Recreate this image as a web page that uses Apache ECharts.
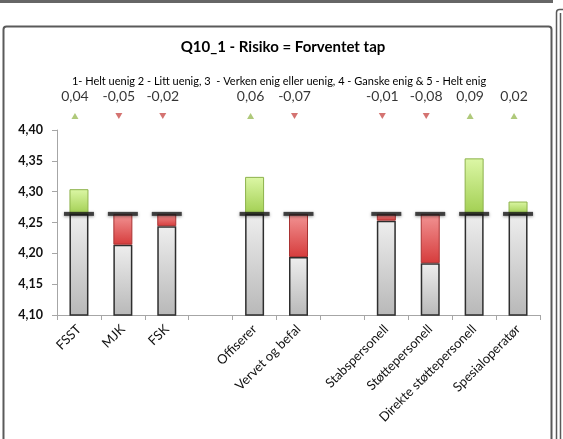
<!DOCTYPE html>
<html>
<head>
<meta charset="utf-8">
<script src="https://cdn.jsdelivr.net/npm/echarts@6/dist/echarts.min.js"></script>
<style>
html,body{margin:0;padding:0;background:#fff;}
#chart{width:563px;height:439px;}
</style>
</head>
<body>
<div id="chart"></div>
<script>
// ---- data ----
const categories = ['FSST', 'MJK', 'FSK', '', 'Offiserer', 'Vervet og befal', '', 'Stabspersonell', 'Støttepersonell', 'Direkte støttepersonell', 'Spesialoperatør'];
const means = [4.304, 4.214, 4.244, null, 4.324, 4.194, null, 4.253, 4.184, 4.354, 4.284];
const baselines = [4.264, 4.264, 4.264, null, 4.264, 4.264, null, 4.264, 4.264, 4.264, 4.264];
const changes = [0.04, -0.05, -0.02, null, 0.06, -0.07, null, -0.01, -0.08, 0.09, 0.02];
const yTicks = { min: 4.10, max: 4.40, interval: 0.05 };
const titleText = 'Q10_1 - Risiko = Forventet tap';
const subtitleText = '1- Helt uenig 2 - Litt uenig, 3  - Verken enig eller uenig, 4 - Ganske enig & 5 - Helt enig';

// ---- styles ----
const FONT = 'Lato, "Open Sans", sans-serif';
const greyGrad = { type: 'linear', x: 0, y: 0, x2: 0, y2: 1, colorStops: [{ offset: 0, color: '#eeeeee' }, { offset: 1, color: '#b8b8b8' }] };
const greenGrad = { type: 'linear', x: 0, y: 0, x2: 0, y2: 1, colorStops: [{ offset: 0, color: '#dcf7a6' }, { offset: 1, color: '#a2cf52' }] };
const redGrad = { type: 'linear', x: 0, y: 0, x2: 0, y2: 1, colorStops: [{ offset: 0, color: '#f29494' }, { offset: 1, color: '#d63c3c' }] };

const greyData = means.map((m, i) => m == null ? '-' : Math.min(m, baselines[i]));
const diffData = means.map((m, i) => {
  if (m == null) return '-';
  const up = m >= baselines[i];
  return {
    value: Math.abs(m - baselines[i]),
    itemStyle: up ? { color: greenGrad, borderColor: '#8db24c', borderWidth: 1 }
                  : { color: redGrad, borderColor: '#a83232', borderWidth: 1 }
  };
});
const markerData = baselines.map(b => b == null ? '-' : b);
const fmt = v => (v < 0 ? '-' : '') + Math.abs(v).toFixed(2).replace('.', ',');
const arrowData = changes.map((c, i) => {
  if (c == null) return null;
  const up = c >= 0;
  return {
    value: [i, 0.5],
    symbol: 'triangle',
    symbolRotate: up ? 0 : 180,
    itemStyle: { color: up ? '#9bbb59' : '#c9504d' },
    label: { formatter: fmt(c) }
  };
}).filter(d => d);

const chart = echarts.init(document.getElementById('chart'), null, { renderer: 'canvas' });
chart.setOption({
  animation: false,
  textStyle: { fontFamily: FONT },
  title: [
    { text: titleText, left: 278, textAlign: 'center', top: 35,
      textStyle: { fontFamily: FONT, fontSize: 15, fontWeight: 'bold', color: '#000' } },
    { text: subtitleText, left: 274, textAlign: 'center', top: 71,
      textStyle: { fontFamily: FONT, fontSize: 11, fontWeight: 'normal', color: '#000' } }
  ],
  graphic: [
    { type: 'line', shape: { x1: 0, y1: 1.5, x2: 553, y2: 1.5 }, style: { stroke: '#666', lineWidth: 3 }, silent: true },
    { type: 'rect', shape: { x: 3.5, y: 26.5, width: 548, height: 430, r: 3 }, style: { fill: null, stroke: '#5a5a5a', lineWidth: 2 }, silent: true },
    { type: 'rect', shape: { x: 556.5, y: 9.5, width: 30, height: 440, r: 3 }, style: { fill: null, stroke: '#5a5a5a', lineWidth: 1.5 }, silent: true },
    { type: 'line', shape: { x1: 560.5, y1: 13, x2: 560.5, y2: 439 }, style: { stroke: '#5a5a5a', lineWidth: 1.5 }, silent: true }
  ],
  grid: [
    { left: 57, right: 23, top: 130, bottom: 124, containLabel: false },
    { left: 53, right: 27, top: 110, height: 12, containLabel: false }
  ],
  xAxis: [
    { type: 'category', gridIndex: 0, data: categories,
      axisLine: { lineStyle: { color: '#a6a6a6', width: 1 } },
      axisTick: { show: true, length: 5, alignWithLabel: false, lineStyle: { color: '#a6a6a6' } },
      axisLabel: { rotate: 45, interval: 0, fontSize: 13, color: '#111', margin: 12, fontFamily: FONT } },
    { type: 'category', gridIndex: 1, data: categories, show: false }
  ],
  yAxis: [
    { type: 'value', gridIndex: 0, min: yTicks.min, max: yTicks.max, interval: yTicks.interval,
      axisLine: { show: true, lineStyle: { color: '#a6a6a6' } },
      axisTick: { show: true, length: 5, lineStyle: { color: '#a6a6a6' } },
      splitLine: { show: false },
      axisLabel: { margin: 14, fontSize: 12.5, fontWeight: 'bold', color: '#111', fontFamily: FONT,
        formatter: v => v.toFixed(2).replace('.', ',') } },
    { type: 'value', gridIndex: 1, min: 0, max: 1, show: false }
  ],
  series: [
    { type: 'bar', name: 'base', stack: 'a', xAxisIndex: 0, yAxisIndex: 0, barWidth: 19,
      data: greyData,
      itemStyle: { color: greyGrad, borderColor: '#2e2e2e', borderWidth: 1.5 } },
    { type: 'bar', name: 'diff', stack: 'a', xAxisIndex: 0, yAxisIndex: 0, barWidth: 19,
      data: diffData },
    { type: 'scatter', name: 'marker', xAxisIndex: 0, yAxisIndex: 0, z: 10,
      symbol: 'rect', symbolSize: [30, 4], data: markerData,
      itemStyle: { color: '#1c1c1c', shadowBlur: 3, shadowColor: 'rgba(0,0,0,0.45)', shadowOffsetY: 1 } },
    { type: 'scatter', name: 'arrows', xAxisIndex: 1, yAxisIndex: 1, symbolSize: [7, 6],
      data: arrowData,
      label: { show: true, position: 'top', distance: 10, fontSize: 14, color: '#000', fontFamily: FONT } }
  ]
});
</script>
</body>
</html>
